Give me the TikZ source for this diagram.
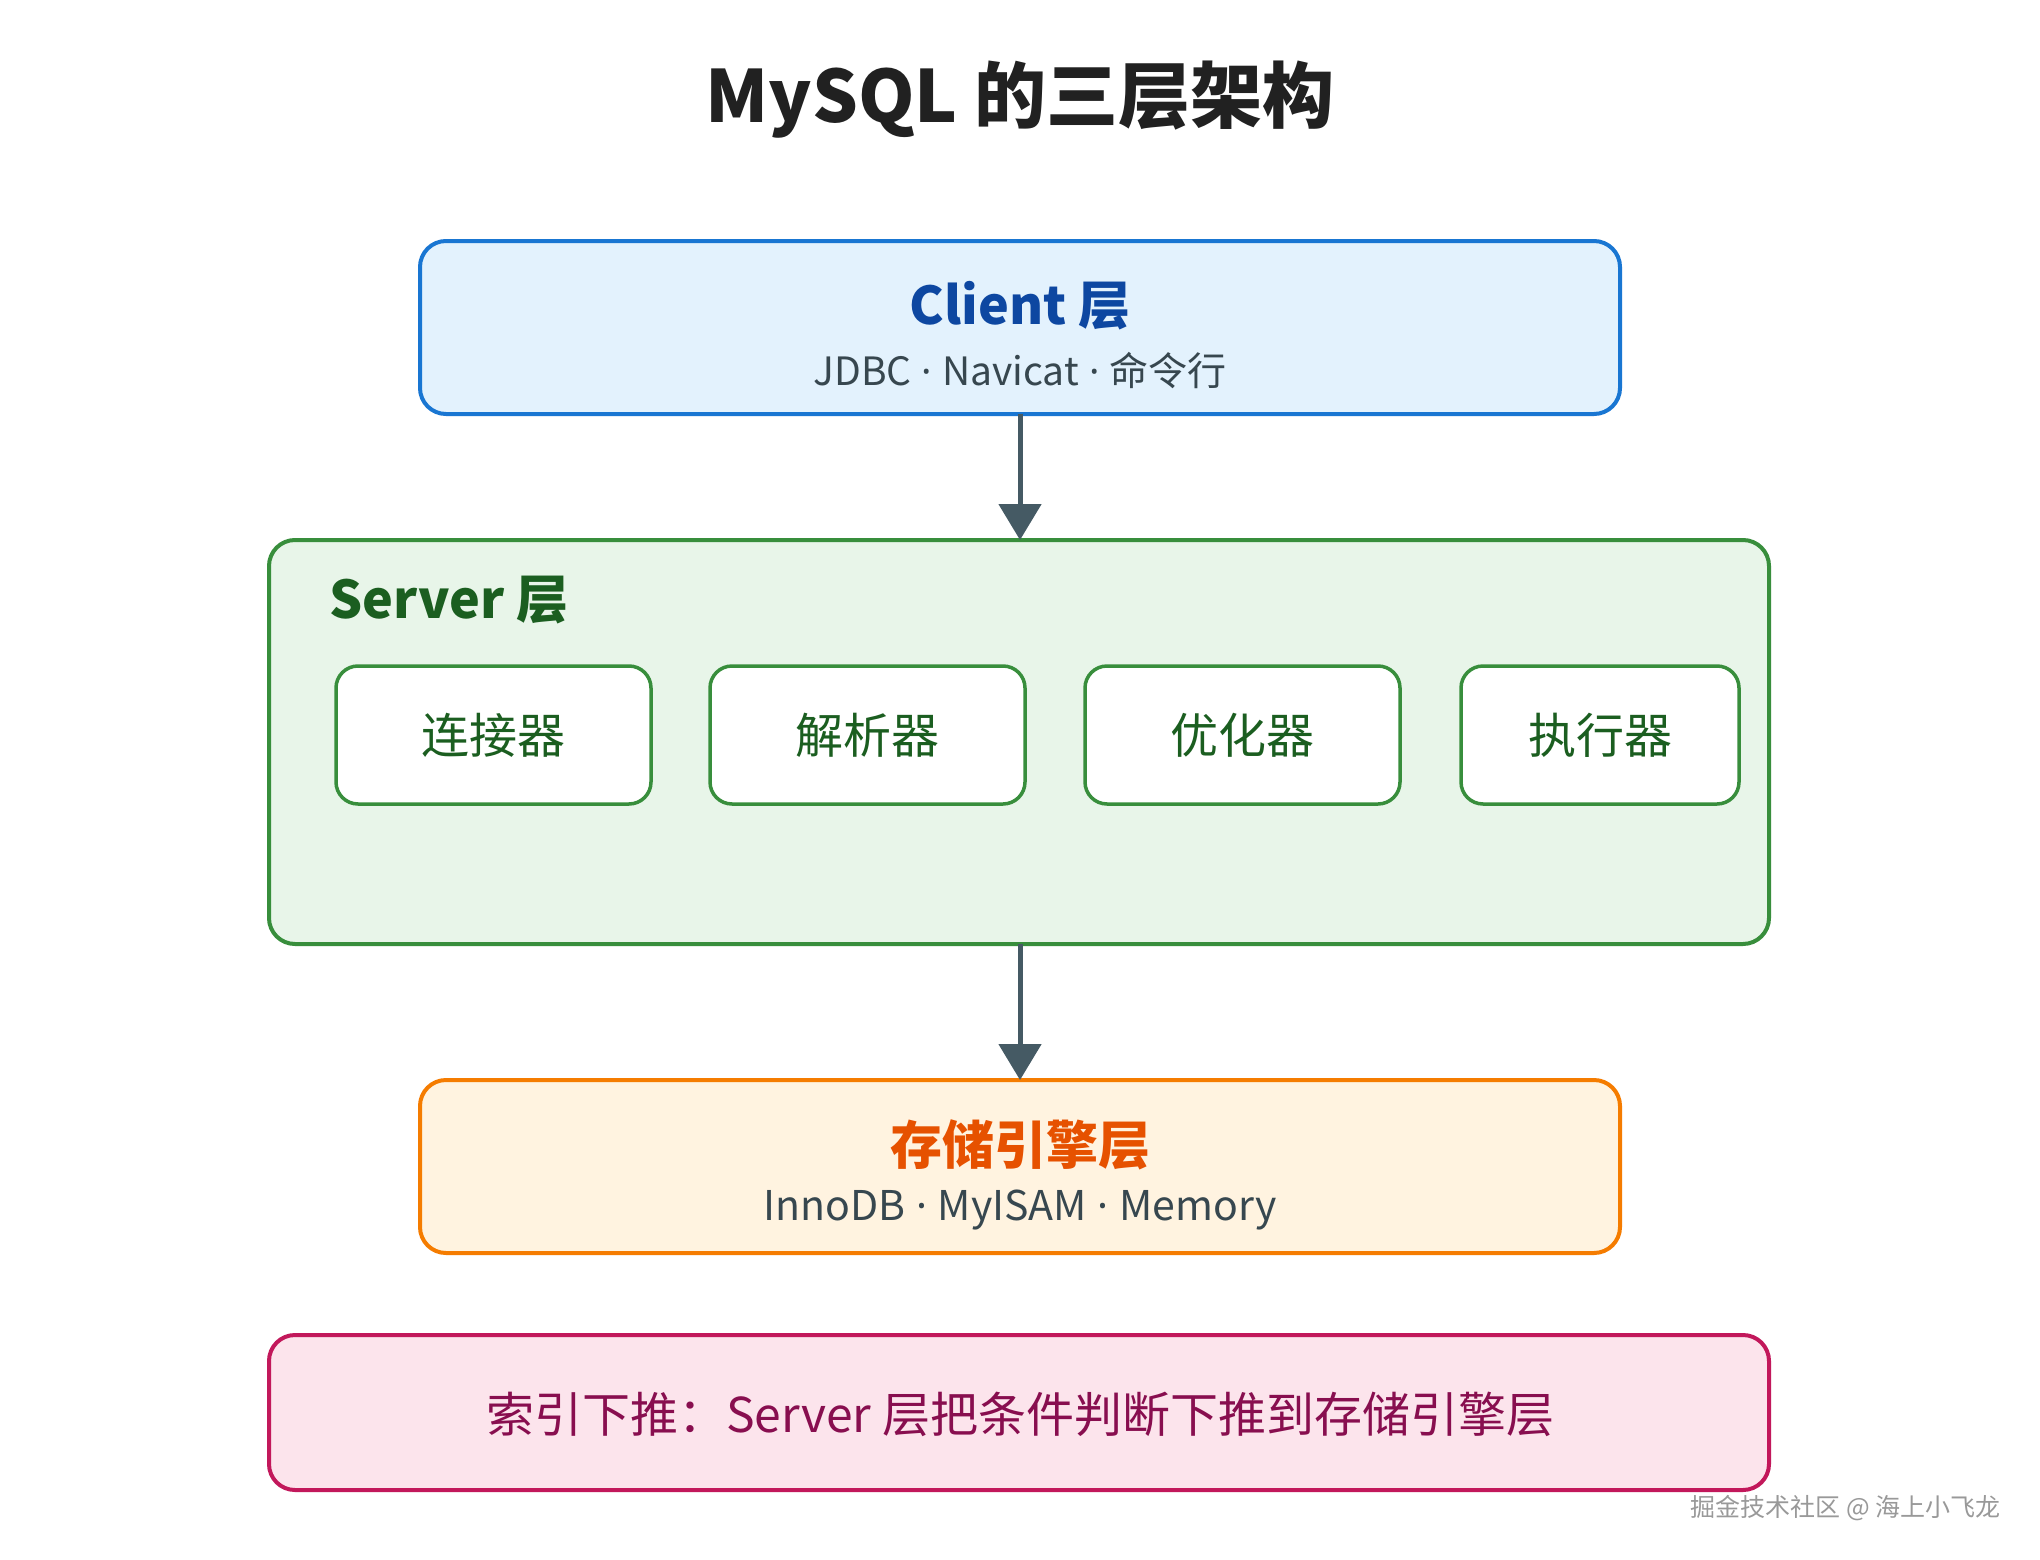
\documentclass[tikz,border=0pt]{standalone}
\usepackage{fontspec}
\setmainfont{Noto Sans CJK SC}
\newfontfamily\latinfont{Noto Sans}
\newcommand{\mdot}{{\latinfont\ ·\ }}
\usetikzlibrary{arrows.meta}
\definecolor{cBlueB}{HTML}{1976D2}
\definecolor{cBlueF}{HTML}{E3F2FD}
\definecolor{cBlueT}{HTML}{0D47A1}
\definecolor{cGreenB}{HTML}{388E3C}
\definecolor{cGreenF}{HTML}{E8F5E9}
\definecolor{cGreenT}{HTML}{1B5E20}
\definecolor{cOrB}{HTML}{F57C00}
\definecolor{cOrF}{HTML}{FFF3E0}
\definecolor{cOrT}{HTML}{E65100}
\definecolor{cPkB}{HTML}{C2185B}
\definecolor{cPkF}{HTML}{FCE4EC}
\definecolor{cPkT}{HTML}{880E4F}
\definecolor{cGrey}{HTML}{37474F}
\definecolor{cArrow}{HTML}{455A64}
\definecolor{cTitle}{HTML}{212121}
\tikzset{
  layerbox/.style={draw, line width=4pt, rounded corners=26pt},
  subbox/.style={draw=cGreenB, fill=white, line width=3.5pt, rounded corners=22pt},
  flow/.style={draw=cArrow, line width=5pt, -{Triangle[width=42pt,length=36pt]}},
  subtxt/.style={text=cGrey, font=\fontsize{39}{45}\selectfont},
  headtxt/.style={font=\bfseries\fontsize{52}{60}\selectfont},
  comptxt/.style={text=cGreenT, font=\fontsize{48}{56}\selectfont},
}
\begin{document}
\begin{tikzpicture}[x=1pt,y=-1pt]
\useasboundingbox (0,0) rectangle (2040,1560);
\fill[white] (0,0) rectangle (2040,1560);

% title
\node[text=cTitle] (title) at (1020,100) {\bfseries\fontsize{72}{82}\selectfont MySQL 的三层架构};

% client
\draw[layerbox, draw=cBlueB, fill=cBlueF] (420,241) rectangle (1620,414);
\coordinate (clientB) at (1020,414);
\node[headtxt, text=cBlueT] (clientT) at (1020,306) {Client 层};
\node[subtxt] (clientS) at (1020,371) {JDBC\mdot Navicat\mdot 命令行};

% server
\draw[layerbox, draw=cGreenB, fill=cGreenF] (269,540) rectangle (1769,944);
\coordinate (serverT) at (1020,540);
\coordinate (serverB) at (1020,944);
\node[headtxt, text=cGreenT, anchor=west] (serverL) at (326,600) {Server 层};

\draw[subbox] (336,666) rectangle (651,804);
\node[comptxt] (c1) at (493.5,735) {连接器};
\draw[subbox] (710,666) rectangle (1025,804);
\node[comptxt] (c2) at (867.5,735) {解析器};
\draw[subbox] (1085,666) rectangle (1400,804);
\node[comptxt] (c3) at (1242.5,735) {优化器};
\draw[subbox] (1461,666) rectangle (1739,804);
\node[comptxt] (c4) at (1600,735) {执行器};

% storage
\draw[layerbox, draw=cOrB, fill=cOrF] (420,1080) rectangle (1620,1253);
\coordinate (storT) at (1020,1080);
\node[headtxt, text=cOrT] (storH) at (1020,1145) {存储引擎层};
\node[subtxt, font=\fontsize{41}{47}\selectfont] (storS) at (1020,1210) {InnoDB\mdot MyISAM\mdot Memory};

% note
\draw[layerbox, draw=cPkB, fill=cPkF] (269,1335) rectangle (1769,1490);
\node[text=cPkT, font=\fontsize{48}{56}\selectfont] (note) at (1020,1414) {索引下推：Server 层把条件判断下推到存储引擎层};

% arrows
\draw[flow] (clientB) -- (serverT);
\draw[flow] (serverB) -- (storT);

% watermark
\node[text=gray!80, font=\fontsize{25}{30}\selectfont, anchor=east] (wm) at (2004,1508) {掘金技术社区 @ 海上小飞龙};
\end{tikzpicture}
\end{document}
